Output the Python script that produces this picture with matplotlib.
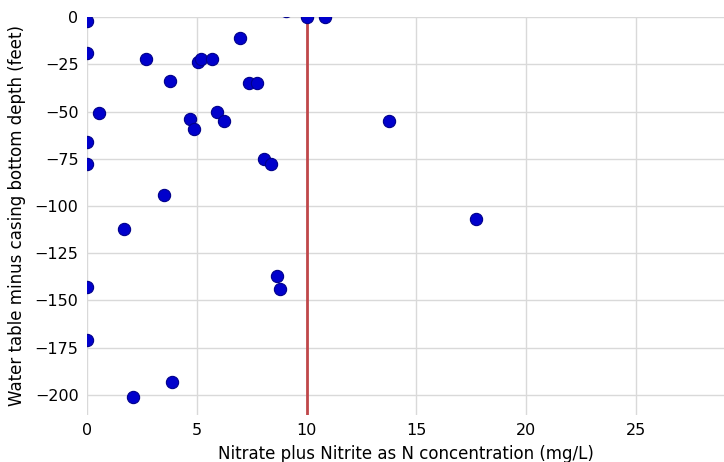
import matplotlib
matplotlib.use('Agg')
import matplotlib.pyplot as plt

# nitrate + nitrite as N (mg/L) and water table minus casing bottom depth (ft)
nitrate=[0,0,0,0,0,0,0.55,2.68,3.77,3.51,1.68,4.68,4.86,5.08,5.21,5.70,5.91,6.26,6.99,
         7.39,7.73,8.06,8.39,8.65,8.77,3.86,2.10,13.73,17.71,9.08,10.0,10.82]
depth=[-2,-19,-66,-78,-143,-171,-51,-22,-34,-94,-112,-54,-59,-24,-22.4,-22,-50,-55,-11,
       -35,-35,-75,-78,-137,-144,-193,-201,-55,-107,3,0,0]
mcl=10

fig=plt.figure(figsize=(7.24,4.62),dpi=100)
ax=fig.add_axes([0.12,0.102,0.88,0.861])

for s in ['top','bottom','right','left']:
    ax.spines[s].set_visible(False)
ax.grid(True,color='#d9d9d9',linewidth=1)
ax.set_axisbelow(True)
ax.tick_params(length=0,labelsize=11.5,pad=6)

ax.scatter(nitrate,depth,s=78,color='#0000cc',edgecolor='#00008b',linewidth=0.8,zorder=3)
ax.axvline(mcl,color='#c0474a',linewidth=2,zorder=2)

ax.set_xlim(0,29)
ax.set_ylim(-210.6,0)
ax.set_xticks([0,5,10,15,20,25])
ax.set_yticks([0,-25,-50,-75,-100,-125,-150,-175,-200])
ax.set_xlabel('Nitrate plus Nitrite as N concentration (mg/L)',fontsize=12,labelpad=5)
ax.set_ylabel('Water table minus casing bottom depth (feet)',fontsize=12,labelpad=6)

plt.savefig('out.png')
